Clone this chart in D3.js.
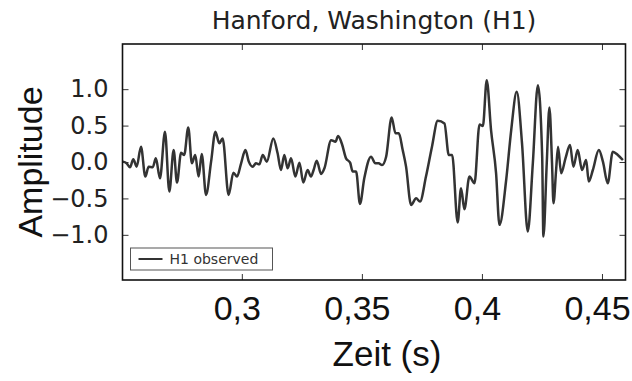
<!DOCTYPE html>
<html>
<head>
<meta charset="utf-8">
<script src="https://cdn.jsdelivr.net/npm/d3@7"></script>
<style>
  body { margin: 0; background: #fff; }
  svg { display: block; }
</style>
</head>
<body>
<svg id="chart" width="632" height="381"></svg>
<script>
// H1 strain (time in s, amplitude normalised)
const times = [
  0.2504, 0.2520, 0.2534, 0.2548, 0.2562, 0.2580, 0.2598, 0.2612, 0.2629, 0.2642,
  0.2659, 0.2680, 0.2698, 0.2716, 0.2730, 0.2747, 0.2760, 0.2777, 0.2792, 0.2806,
  0.2820, 0.2833, 0.2851, 0.2872, 0.2890, 0.2906, 0.2920, 0.2945, 0.2965, 0.2980,
  0.2997, 0.3015, 0.3029, 0.3045, 0.3059, 0.3073, 0.3087, 0.3104, 0.3131, 0.3149,
  0.3163, 0.3177, 0.3191, 0.3205, 0.3223, 0.3240, 0.3256, 0.3274, 0.3288, 0.3299,
  0.3312, 0.3330, 0.3344, 0.3372, 0.3390, 0.3401, 0.3417, 0.3434, 0.3451, 0.3462,
  0.3476, 0.3492, 0.3510, 0.3538, 0.3556, 0.3570, 0.3584, 0.3601, 0.3624, 0.3640,
  0.3654, 0.3670, 0.3684, 0.3705, 0.3726, 0.3742, 0.3767, 0.3792, 0.3816, 0.3844,
  0.3862, 0.3876, 0.3899, 0.3913, 0.3927, 0.3948, 0.3969, 0.3990, 0.4004, 0.4020,
  0.4038, 0.4059, 0.4073, 0.4101, 0.4122, 0.4145, 0.4167, 0.4191, 0.4212, 0.4233,
  0.4251, 0.4256, 0.4270, 0.4281, 0.4292, 0.4298, 0.4309, 0.4317, 0.4330, 0.4348,
  0.4367, 0.4381, 0.4399, 0.4417, 0.4434, 0.4445, 0.4462, 0.4487, 0.4504, 0.4524,
  0.4545, 0.4566, 0.4587
];
const amplitude = [
  0.005, -0.018, -0.073, 0.037, -0.064, 0.21, -0.20, -0.064, -0.073, 0.05,
  -0.224, 0.415, -0.406, 0.164, -0.283, 0.128, 0.096, 0.475, -0.018, 0.096,
  -0.20, 0.11, -0.452, 0.005, 0.415, 0.256, 0.324, -0.452, -0.146, -0.20,
  -0.018, 0.164, 0.005, -0.064, -0.018, -0.032, 0.096, 0.005, 0.324, 0.119,
  -0.11, 0.096, -0.087, 0.05, -0.20, -0.009, -0.283, -0.11, -0.20, -0.11,
  0.018, -0.164, -0.087, 0.30, 0.278, 0.356, 0.247, 0.05, -0.009, -0.132,
  -0.132, -0.575, -0.224, 0.073, -0.018, -0.018, -0.041, 0.073, 0.612, 0.393,
  0.393, 0.164, -0.064, -0.589, -0.498, -0.543, -0.20, 0.21, 0.566, 0.53,
  0.096, 0.096, -0.831, -0.361, -0.648, -0.20, -0.292, 0.516, 0.493, 1.123,
  0.438, -0.155, -0.863, -0.247, 0.438, 0.963, 0.256, -0.954, -0.018, 1.055,
  0.073, -1.023, -0.018, 0.749, -0.018, -0.566, -0.11, 0.21, -0.155, 0.05,
  0.233, -0.064, 0.164, -0.11, 0.027, -0.269, -0.11, 0.164, 0.005, -0.292,
  0.142, 0.096, 0.027
];
const xTicks = [0.3, 0.35, 0.4, 0.45];
const yTicks = [-1.0, -0.5, 0.0, 0.5, 1.0];

const data = times.map((t, i) => ({ t: t, a: amplitude[i] }));

const margin = { top: 44, right: 6.5, bottom: 101, left: 122.5 };
const width = 632 - margin.left - margin.right;
const height = 381 - margin.top - margin.bottom;

const svg = d3.select('#chart');
const g = svg.append('g')
  .attr('transform', `translate(${margin.left},${margin.top})`);

const x = d3.scaleLinear().domain([0.2503, 0.4598]).range([0, width]);
const y = d3.scaleLinear().domain([-1.62, 1.62]).range([height, 0]);

// the signal
const line = d3.line()
  .x(d => x(d.t))
  .y(d => y(d.a))
  .curve(d3.curveMonotoneX);

g.append('path')
  .datum(data)
  .attr('fill', 'none')
  .attr('stroke', '#333')
  .attr('stroke-width', 2.5)
  .attr('stroke-linejoin', 'round')
  .attr('d', line);

// inward ticks on all four sides, labels only bottom / left
const fmtX = d => String(d).replace('.', ',');
g.append('g')
  .attr('transform', `translate(0,${height})`)
  .call(d3.axisBottom(x).tickValues(xTicks).tickSizeInner(-6).tickSizeOuter(0).tickPadding(16).tickFormat(fmtX))
  .call(a => a.select('.domain').remove())
  .call(a => a.selectAll('text')
    .attr('font-family', '"Liberation Sans", Arial, sans-serif')
    .attr('font-size', 34)
    .attr('fill', '#111')
    .attr('dx', -5));

g.append('g')
  .call(d3.axisTop(x).tickValues(xTicks).tickSizeInner(-6).tickSizeOuter(0).tickFormat(''))
  .call(a => a.select('.domain').remove());

g.append('g')
  .call(d3.axisLeft(y).tickValues(yTicks).tickSizeInner(-6).tickSizeOuter(0).tickPadding(14).tickFormat(d3.format('.1f')))
  .call(a => a.select('.domain').remove())
  .call(a => a.selectAll('text')
    .attr('font-family', '"DejaVu Sans", sans-serif')
    .attr('font-size', 24)
    .attr('fill', '#222'));

g.append('g')
  .attr('transform', `translate(${width},0)`)
  .call(d3.axisRight(y).tickValues(yTicks).tickSizeInner(-6).tickSizeOuter(0).tickFormat(''))
  .call(a => a.select('.domain').remove());

g.selectAll('.tick line').attr('stroke', '#333').attr('stroke-width', 1);

// frame
g.append('rect')
  .attr('width', width)
  .attr('height', height)
  .attr('fill', 'none')
  .attr('stroke', '#111')
  .attr('stroke-width', 1.6);

// legend
const leg = g.append('g').attr('transform', 'translate(8,204)');
leg.append('rect')
  .attr('width', 142).attr('height', 22)
  .attr('fill', '#fff').attr('stroke', '#555').attr('stroke-width', 1);
leg.append('line')
  .attr('x1', 8).attr('x2', 32).attr('y1', 11).attr('y2', 11)
  .attr('stroke', '#333').attr('stroke-width', 2);
leg.append('text')
  .attr('x', 39).attr('y', 16)
  .attr('font-family', '"DejaVu Sans", sans-serif')
  .attr('font-size', 14)
  .attr('fill', '#333')
  .text('H1 observed');

// title and axis labels
svg.append('text')
  .attr('x', margin.left + width / 2).attr('y', 29)
  .attr('text-anchor', 'middle')
  .attr('font-family', '"DejaVu Sans", sans-serif')
  .attr('font-size', 25)
  .attr('fill', '#222')
  .text('Hanford, Washington (H1)');

svg.append('text')
  .attr('x', 387).attr('y', 366)
  .attr('text-anchor', 'middle')
  .attr('font-family', '"Liberation Sans", Arial, sans-serif')
  .attr('font-size', 35)
  .attr('fill', '#111')
  .text('Zeit (s)');

svg.append('text')
  .attr('transform', 'translate(42,162) rotate(-90)')
  .attr('text-anchor', 'middle')
  .attr('font-family', '"Liberation Sans", Arial, sans-serif')
  .attr('font-size', 34)
  .attr('fill', '#111')
  .text('Amplitude');
</script>
</body>
</html>
